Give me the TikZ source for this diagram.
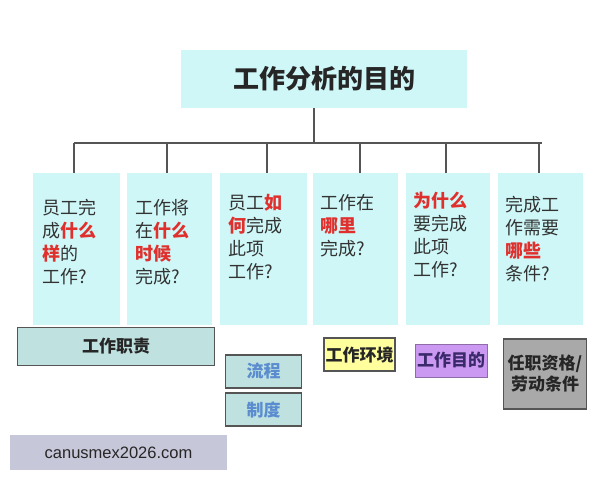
\documentclass[tikz,border=0pt]{standalone}
\usepackage{fontspec}
\setmainfont{Liberation Sans}
\newfontfamily\cjk{Noto Sans CJK SC}
\definecolor{boxcyan}{HTML}{CFF7F7}
\definecolor{linegrey}{HTML}{555555}
\definecolor{txtgrey}{HTML}{333333}
\definecolor{qred}{HTML}{E0302E}
\definecolor{tealbox}{HTML}{BFE2E0}
\definecolor{flowblue}{HTML}{5A8CCF}
\definecolor{yelbox}{HTML}{FFFF9E}
\definecolor{purbox}{HTML}{CC99F2}
\definecolor{purtxt}{HTML}{3A2A6A}
\definecolor{greybox}{HTML}{A9A9A9}
\definecolor{wmbox}{HTML}{C6C8DA}
\newcommand\redw[1]{{\color{qred}\bfseries #1}}
\begin{document}
\begin{tikzpicture}[x=1pt,y=-1pt,
  topbox/.style={fill=boxcyan,draw=none,minimum width=286pt,minimum height=58pt,inner sep=0pt,
    font=\cjk\bfseries\fontsize{26}{30}\selectfont,text=black!85},
  qbox/.style={fill=boxcyan,draw=none,minimum width=85pt,minimum height=152pt,inner sep=0pt},
  qtext/.style={anchor=north west,inner sep=0pt,align=left,text=txtgrey,
    font=\cjk\fontsize{18}{23}\selectfont},
  conn/.style={draw=linegrey,line width=1.5pt},
  tagbox/.style={draw=linegrey,line width=1.6pt,inner sep=0pt,
    font=\cjk\bfseries\fontsize{17}{21}\selectfont,text=black!85}
]
\useasboundingbox (0,0) rectangle (600,480);
\fill[white] (0,0) rectangle (600,480);

% top box
\node[topbox] (top) at (324,79) {工作分析的目的};

% question boxes
\node[qbox,minimum width=87pt] (b1) at (76.5,249) {};
\node[qbox] (b2) at (169.5,249) {};
\node[qbox,minimum width=87pt] (b3) at (263.5,249) {};
\node[qbox] (b4) at (355.5,249) {};
\node[qbox,minimum width=84pt] (b5) at (448,249) {};
\node[qbox] (b6) at (540.5,249) {};

% connectors
\coordinate (hub) at (314,143);
\draw[conn] (top.south -| hub) -- (hub);
\draw[conn] ([xshift=-2.5pt]b1.north |- hub) -- ([xshift=1.5pt]b6.north |- hub);
\draw[conn] ([xshift=-2.5pt]b1.north |- hub) -- ([xshift=-2.5pt]b1.north);
\draw[conn] ([xshift=-2.5pt]b2.north |- hub) -- ([xshift=-2.5pt]b2.north);
\draw[conn] ([xshift=3.5pt]b3.north |- hub) -- ([xshift=3.5pt]b3.north);
\draw[conn] ([xshift=4.5pt]b4.north |- hub) -- ([xshift=4.5pt]b4.north);
\draw[conn] ([xshift=-2pt]b5.north |- hub) -- ([xshift=-2pt]b5.north);
\draw[conn] ([xshift=-1.5pt]b6.north |- hub) -- ([xshift=-1.5pt]b6.north);

% question texts
\node[qtext] (t1) at (42,199) {员工完\\成\redw{什么}\\\redw{样}的\\工作?};
\node[qtext] (t2) at (135,199) {工作将\\在\redw{什么}\\\redw{时候}\\完成?};
\node[qtext] (t3) at (228,194) {员工\redw{如}\\\redw{何}完成\\此项\\工作?};
\node[qtext] (t4) at (320,194) {工作在\\\redw{哪里}\\完成?};
\node[qtext] (t5) at (413,192) {\redw{为什么}\\要完成\\此项\\工作?};
\node[qtext] (t6) at (505,196) {完成工\\作需要\\\redw{哪些}\\条件?};

% bottom tags
\node[tagbox,fill=tealbox,minimum width=197pt,minimum height=38pt] (duty) at (116,346.5) {工作职责};
\node[tagbox,fill=tealbox,minimum width=76pt,minimum height=33pt,text=flowblue] (flow) at (263.5,371.5) {流程};
\node[tagbox,fill=tealbox,minimum width=76pt,minimum height=33pt,text=flowblue] (rule) at (263.5,409.5) {制度};
\node[tagbox,fill=yelbox,minimum width=71pt,minimum height=33pt] (env) at (359.5,354.5) {工作环境};
\node[tagbox,draw=purbox!70!black,line width=1pt,fill=purbox,minimum width=72pt,minimum height=33pt,text=purtxt] (goal) at (451,360.5) {工作目的};
\node[tagbox,fill=greybox,minimum width=83pt,minimum height=70pt,align=center] (qual) at (545,374) {任职资格/\\劳动条件};

% watermark
\node[fill=wmbox,minimum width=217pt,minimum height=35pt,inner sep=0pt,
  font=\fontsize{16.5}{20}\selectfont,text=black!85] (wm) at (118.5,452.5) {canusmex2026.com};
\end{tikzpicture}
\end{document}
